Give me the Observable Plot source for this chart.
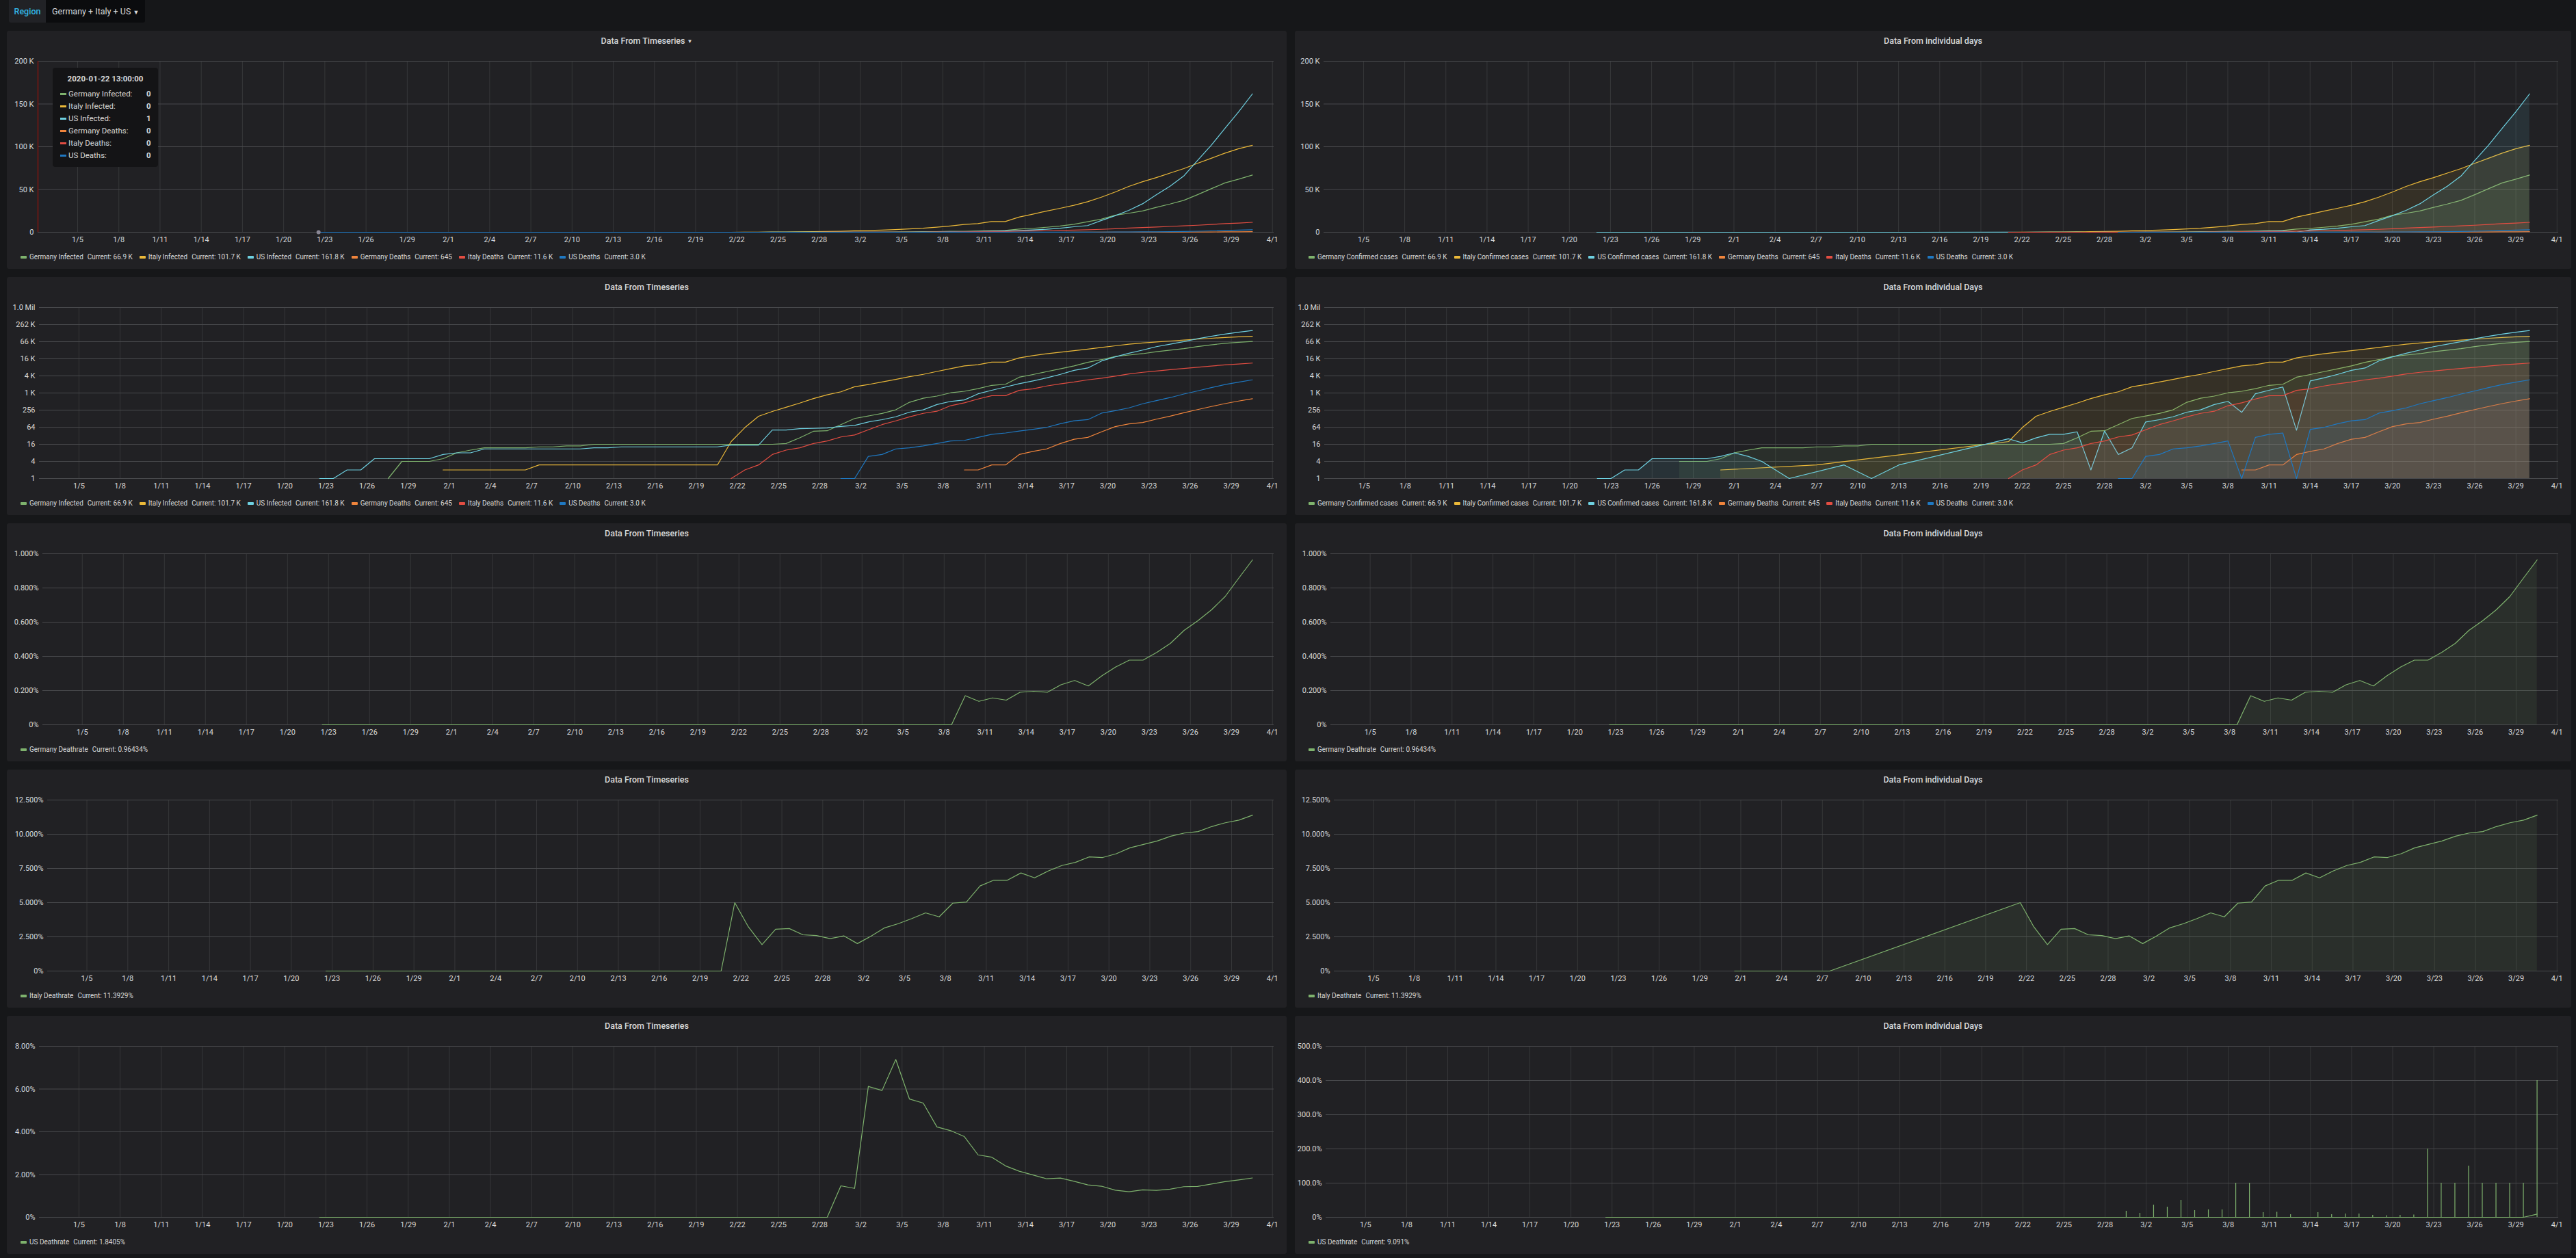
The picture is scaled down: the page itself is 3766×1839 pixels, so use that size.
<!DOCTYPE html>
<html>
<head>
<meta charset="utf-8">
<script src="https://cdn.jsdelivr.net/npm/d3@7"></script>
<script src="https://cdn.jsdelivr.net/npm/@observablehq/plot@0.6"></script>
<style>
html,body{margin:0;padding:0;background:#161719;}
body{width:3766px;height:1839px;position:relative;overflow:hidden;font-family:Roboto,"Noto Sans",sans-serif;color:#d8d9da;}
.hdr{position:absolute;left:13px;top:0;height:33px;display:flex;border-radius:0 0 3px 3px;overflow:hidden;}
.hdr .lbl{background:#212226;color:#33b5e5;font-size:12.5px;font-weight:500;width:54px;text-align:center;line-height:33px;}
.hdr .val{background:#0b0c0e;color:#d8d9da;font-size:12.5px;width:136px;padding-left:9px;line-height:33px;}
.panel{position:absolute;background:#212124;border-radius:3px;}
.panel svg{position:absolute;left:0;top:0;overflow:visible;}
.ptitle{position:absolute;left:0;right:0;top:6px;text-align:center;font-size:12.5px;font-weight:500;line-height:18px;color:#d8d9da;}
.legend{position:absolute;left:20px;top:323px;display:flex;font-size:10px;line-height:16px;white-space:pre;color:#d8d9da;}
.legend .item{display:flex;align-items:center;margin-right:10px;}
.legend .sw{width:9px;height:4px;border-radius:1px;margin-right:4px;}
.legend .cur{margin-left:6px;}
.tip{position:absolute;background:#141416;border-radius:4px;font-size:11.5px;color:#d8d9da;}
.tip .tt{position:absolute;left:0;right:0;top:8px;text-align:center;font-weight:700;line-height:16px;}
.tip .row{position:absolute;left:11px;height:16px;line-height:16px;display:flex;align-items:center;}
.tip .row .sw{width:9px;height:3px;margin-right:3px;}
.tip .val{position:absolute;left:137px;font-weight:700;height:16px;line-height:16px;}
</style>
</head>
<body>
<script>
// ---------------- DATA ----------------
const regionLabel = "Region";
const regionValue = "Germany + Italy + US";

const xTickLabels = ["1/5","1/8","1/11","1/14","1/17","1/20","1/23","1/26","1/29","2/1","2/4","2/7","2/10","2/13","2/16","2/19","2/22","2/25","2/28","3/2","3/5","3/8","3/11","3/14","3/17","3/20","3/23","3/26","3/29","4/1"];

const colors = ["#7EB26D","#EAB839","#6ED0E0","#EF843C","#E24D42","#1F78C1"];

const leftNames = ["Germany Infected","Italy Infected","US Infected","Germany Deaths","Italy Deaths","US Deaths"];
const rightNames = ["Germany Confirmed cases","Italy Confirmed cases","US Confirmed cases","Germany Deaths","Italy Deaths","US Deaths"];
const currents = ["66.9 K","101.7 K","161.8 K","645","11.6 K","3.0 K"];

const tooltipTime = "2020-01-22 13:00:00";

// daily values 1/22 .. 3/30 (Data From Timeseries)
const germanyInfected = [
  0,0,0,0,0,1,4,4,4,5,
  8,10,12,12,12,12,13,13,14,14,16,16,16,16,16,16,16,16,16,16,16,16,16,16,17,27,46,48,79,
  130,159,196,262,482,670,799,1040,1176,1457,1908,2078,3675,4585,5795,7272,9257,12327,15320,19848,22213,24873,29056,32986,37323,43938,50871,57695,62095,66885];
const italyInfected = [
  0,0,0,0,0,0,0,0,0,2,
  2,2,2,2,2,2,3,3,3,3,3,3,3,3,3,3,3,3,3,3,20,62,155,229,322,453,655,888,1128,
  1694,2036,2502,3089,3858,4636,5883,7375,9172,10149,12462,12462,17660,21157,24747,27980,31506,35713,41035,47021,53578,59138,63927,69176,74386,80589,86498,92472,97689,101739];
const usInfected = [
  1,1,2,2,5,5,5,5,5,7,
  8,8,11,11,11,11,11,11,11,11,12,12,13,13,13,13,13,13,13,13,15,15,15,51,51,57,58,60,68,
  74,98,118,149,217,262,402,518,583,959,1281,1663,2179,2727,3499,4632,6421,7783,13747,19273,25600,33276,43847,53740,65778,83836,101657,121478,140886,161807];
const germanyDeaths = [
  0,0,0,0,0,0,0,0,0,0,
  0,0,0,0,0,0,0,0,0,0,0,0,0,0,0,0,0,0,0,0,0,0,0,0,0,0,0,0,0,
  0,0,0,0,0,0,0,0,2,2,3,3,7,9,11,17,24,28,44,67,84,94,123,157,206,267,342,433,533,645];
const italyDeaths = [
  0,0,0,0,0,0,0,0,0,0,
  0,0,0,0,0,0,0,0,0,0,0,0,0,0,0,0,0,0,0,0,1,2,3,7,10,12,17,21,29,
  34,52,79,107,148,197,233,366,463,631,827,827,1266,1441,1809,2158,2503,2978,3405,4032,4825,5476,6077,6820,7503,8215,9134,10023,10779,11591];
const usDeaths = [
  0,0,0,0,0,0,0,0,0,0,
  0,0,0,0,0,0,0,0,0,0,0,0,0,0,0,0,0,0,0,0,0,0,0,0,0,0,0,0,1,
  1,6,7,11,12,14,17,21,22,28,36,40,47,54,63,85,108,118,200,244,307,427,552,706,942,1209,1581,2026,2467,2978];

// daily values 1/22 .. 3/30 (Data From individual days), null = no report
const germanyConfirmedDays = [
  null,null,null,null,null,null,4,4,4,5,
  8,10,12,12,12,12,13,13,14,14,16,16,16,16,16,16,16,16,16,16,16,16,16,16,17,27,46,48,79,
  130,159,196,262,482,670,799,1040,1176,1457,1908,2078,3675,4585,5795,7272,9257,12327,15320,19848,22213,24873,29056,32986,37323,43938,50871,57695,62095,66885];
const italyConfirmedDays = [
  null,null,null,null,null,null,null,null,null,2,
  null,null,null,null,null,null,3,null,null,null,null,null,null,null,null,null,null,null,null,null,20,62,155,229,322,453,655,888,1128,
  1694,2036,2502,3089,3858,4636,5883,7375,9172,10149,12462,12462,17660,21157,24747,27980,31506,35713,41035,47021,53578,59138,63927,69176,74386,80589,86498,92472,97689,101739];
const usConfirmedDays = [
  1,1,2,2,5,5,5,5,5,6,
  8,6,4,2,1,null,null,null,3,null,1,null,3,null,null,null,null,null,null,null,25,18,27,36,36,44,2,47,7,
  12,98,118,149,217,262,402,518,213,959,1281,1663,50,2727,3499,4632,6421,7783,13747,19273,25600,33276,43847,53740,65778,83836,101657,121478,140886,161807];
const germanyDeathsDays = [
  null,null,null,null,null,null,null,null,null,null,
  null,null,null,null,null,null,null,null,null,null,null,null,null,null,null,null,null,null,null,null,null,null,null,null,null,null,null,null,null,
  null,null,null,null,null,null,null,null,2,2,3,3,7,9,11,17,24,28,44,67,84,94,123,157,206,267,342,433,533,645];
const italyDeathsDays = [
  null,null,null,null,null,null,null,null,null,null,
  null,null,null,null,null,null,null,null,null,null,null,null,null,null,null,null,null,null,null,null,1,2,3,7,10,12,17,21,29,
  34,52,79,107,148,197,233,366,463,631,827,827,1266,1441,1809,2158,2503,2978,3405,4032,4825,5476,6077,6820,7503,8215,9134,10023,10779,11591];
const usDeathsDays = [
  null,null,null,null,null,null,null,null,null,null,
  null,null,null,null,null,null,null,null,null,null,null,null,null,null,null,null,null,null,null,null,null,null,null,null,null,null,null,null,1,
  1,6,7,11,12,14,17,21,1,28,36,40,1,54,63,85,108,118,200,244,307,427,552,706,942,1209,1581,2026,2467,2978];

// death rates in % (1/22 .. 3/30)
const germanyDeathrate = [
  0,0,0,0,0,0,0,0,0,0,
  0,0,0,0,0,0,0,0,0,0,0,0,0,0,0,0,0,0,0,0,0,0,0,0,0,0,0,0,0,
  0,0,0,0,0,0,0,0,0.170,0.137,0.157,0.144,0.190,0.196,0.190,0.234,0.259,0.227,0.287,0.338,0.378,0.378,0.423,0.476,0.552,0.608,0.672,0.750,0.858,0.964];
const germanyDeathrateDays = [
  0,0,0,0,0,0,0,0,0,0,
  0,0,0,0,0,0,0,0,0,0,0,0,0,0,0,0,0,0,0,0,0,0,0,0,0,0,0,0,0,
  0,0,0,0,0,0,0,0,0.170,0.137,0.157,0.144,0.190,0.196,0.190,0.234,0.259,0.227,0.287,0.338,0.378,0.378,0.423,0.476,0.552,0.608,0.672,0.750,0.858,0.964];
const italyDeathrate = [
  0,0,0,0,0,0,0,0,0,0,
  0,0,0,0,0,0,0,0,0,0,0,0,0,0,0,0,0,0,0,0,5.000,3.226,1.935,3.057,3.106,2.649,2.595,2.365,2.571,
  2.007,2.554,3.157,3.464,3.836,4.249,3.961,4.963,5.048,6.217,6.636,6.636,7.169,6.811,7.310,7.713,7.945,8.339,8.298,8.575,9.006,9.260,9.506,9.859,10.087,10.194,10.560,10.839,11.034,11.393];
const italyDeathrateDays = [
  null,null,null,null,null,null,null,null,null,0,
  null,null,null,null,null,null,0,null,null,null,null,null,null,null,null,null,null,null,null,null,5.000,3.226,1.935,3.057,3.106,2.649,2.595,2.365,2.571,
  2.007,2.554,3.157,3.464,3.836,4.249,3.961,4.963,5.048,6.217,6.636,6.636,7.169,6.811,7.310,7.713,7.945,8.339,8.298,8.575,9.006,9.260,9.506,9.859,10.087,10.194,10.560,10.839,11.034,11.393];
const usDeathrate = [
  0,0,0,0,0,0,0,0,0,0,
  0,0,0,0,0,0,0,0,0,0,0,0,0,0,0,0,0,0,0,0,0,0,0,0,0,0,0,0,1.471,
  1.351,6.122,5.932,7.383,5.530,5.344,4.229,4.054,3.774,2.920,2.810,2.405,2.157,1.980,1.801,1.835,1.682,1.516,1.455,1.266,1.199,1.283,1.259,1.314,1.432,1.442,1.555,1.668,1.751,1.840];
const usDeathrateDays = [
  0,0,0,0,0,0,0,0,0,0,
  0,0,0,0,0,0,0,0,0,0,0,0,0,0,0,0,0,0,0,0,0,0,0,0,0,0,0,0,0,
  0,0,0,0,0,0,0,0,0,0,0,0,0,0,0,0,0,0,0,0,0,0,0,0,0,0,0,0,0,9.091];
// spikes (bars) in the individual-days US death rate
const usSpikeDates = ["2020-02-29","2020-03-01","2020-03-02","2020-03-03","2020-03-04","2020-03-05","2020-03-06","2020-03-07","2020-03-08","2020-03-09","2020-03-10","2020-03-11","2020-03-12","2020-03-14","2020-03-15","2020-03-16","2020-03-17","2020-03-18","2020-03-19","2020-03-20","2020-03-21","2020-03-22","2020-03-23","2020-03-24","2020-03-25","2020-03-26","2020-03-27","2020-03-28","2020-03-29","2020-03-30"];
const usSpikeValues = [18,12,36,30,50,20,22,22,100,100,14,15,8,14,8,10,10,6,5,6,7,200,100,100,150,100,100,100,100,400];

// axis ticks
const countTicks = [0,50000,100000,150000,200000];
const countLabels = ["0","50 K","100 K","150 K","200 K"];
const logTicks = [1,4,16,64,256,1024,4096,16384,65536,262144,1048576];
const logLabels = ["1","4","16","64","256","1 K","4 K","16 K","66 K","262 K","1.0 Mil"];
const deTicks = [0,0.2,0.4,0.6,0.8,1.0];
const deLabels = ["0%","0.200%","0.400%","0.600%","0.800%","1.000%"];
const itTicks = [0,2.5,5,7.5,10,12.5];
const itLabels = ["0%","2.500%","5.000%","7.500%","10.000%","12.500%"];
const usTicks = [0,2,4,6,8];
const usLabels = ["0%","2.00%","4.00%","6.00%","8.00%"];
const usDayTicks = [0,100,200,300,400,500];
const usDayLabels = ["0%","100.0%","200.0%","300.0%","400.0%","500.0%"];

// ---------------- RENDER ----------------
const TXT = "#d8d9da", H_GRID = "#48494c", V_GRID = "#363739";
const T0 = new Date(Date.UTC(2020,0,2,2,40)), T1 = new Date(Date.UTC(2020,3,1,2,40));
const xTickDates = xTickLabels.map(s => { const [m,d] = s.split("/").map(Number); return new Date(Date.UTC(2020,m-1,d)); });
const days = d3.utcDay.range(new Date(Date.UTC(2020,0,22)), new Date(Date.UTC(2020,2,31)));
const at = h => days.map(d => new Date(+d + h*3600e3));

const leftSeries = [germanyInfected, italyInfected, usInfected, germanyDeaths, italyDeaths, usDeaths].map((v,i)=>({name:leftNames[i], values:v, color:colors[i], cur:currents[i]}));
const rightSeries = [germanyConfirmedDays, italyConfirmedDays, usConfirmedDays, germanyDeathsDays, italyDeathsDays, usDeathsDays].map((v,i)=>({name:rightNames[i], values:v, color:colors[i], cur:currents[i]}));

const LX = 10, LW = 1871, RX = 1893, RW = 1866, PH = 348;
const rowTop = [45,405,765,1125,1485];

const panels = [
  {c:0,r:0,title:"Data From Timeseries",caret:true,ml:45,type:"linear",dom:[0,200000],ticks:countTicks,labels:countLabels,series:leftSeries,h:13,fill:false,tooltip:true},
  {c:1,r:0,title:"Data From individual days",ml:42,type:"linear",dom:[0,200000],ticks:countTicks,labels:countLabels,series:rightSeries,h:0,fill:true},
  {c:0,r:1,title:"Data From Timeseries",ml:47,type:"log",dom:[1,1048576],ticks:logTicks,labels:logLabels,series:leftSeries,h:13,fill:false},
  {c:1,r:1,title:"Data From individual Days",ml:43,type:"log",dom:[1,1048576],ticks:logTicks,labels:logLabels,series:rightSeries,h:0,fill:true},
  {c:0,r:2,title:"Data From Timeseries",ml:52,type:"linear",dom:[0,1],ticks:deTicks,labels:deLabels,series:[{name:"Germany Deathrate",values:germanyDeathrate,color:colors[0],cur:"0.96434%"}],h:13,fill:false},
  {c:1,r:2,title:"Data From individual Days",ml:52,type:"linear",dom:[0,1],ticks:deTicks,labels:deLabels,series:[{name:"Germany Deathrate",values:germanyDeathrateDays,color:colors[0],cur:"0.96434%"}],h:13,fill:true},
  {c:0,r:3,title:"Data From Timeseries",ml:59,type:"linear",dom:[0,12.5],ticks:itTicks,labels:itLabels,series:[{name:"Italy Deathrate",values:italyDeathrate,color:colors[0],cur:"11.3929%"}],h:13,fill:false},
  {c:1,r:3,title:"Data From individual Days",ml:57,type:"linear",dom:[0,12.5],ticks:itTicks,labels:itLabels,series:[{name:"Italy Deathrate",values:italyDeathrateDays,color:colors[0],cur:"11.3929%"}],h:13,fill:true},
  {c:0,r:4,title:"Data From Timeseries",ml:47,type:"linear",dom:[0,8],ticks:usTicks,labels:usLabels,series:[{name:"US Deathrate",values:usDeathrate,color:colors[0],cur:"1.8405%"}],h:13,fill:false},
  {c:1,r:4,title:"Data From individual Days",ml:45,type:"linear",dom:[0,500],ticks:usDayTicks,labels:usDayLabels,series:[{name:"US Deathrate",values:usDeathrateDays,color:colors[0],cur:"9.091%"}],h:13,fill:false,spikes:true}
];

// header
const hdr = document.createElement("div"); hdr.className = "hdr";
hdr.innerHTML = `<div class="lbl">${regionLabel}</div><div class="val">${regionValue} <span style="font-size:9px">&#9660;</span></div>`;
document.body.appendChild(hdr);

for (const p of panels) {
  const W = p.c ? RW : LW;
  const el = document.createElement("div");
  el.className = "panel";
  el.style.left = (p.c ? RX : LX) + "px";
  el.style.top = rowTop[p.r] + "px";
  el.style.width = W + "px";
  el.style.height = PH + "px";
  document.body.appendChild(el);

  const t = document.createElement("div");
  t.className = "ptitle";
  t.innerHTML = p.title + (p.caret ? ' <span style="font-size:8px;vertical-align:1px">&#9660;</span>' : "");
  el.appendChild(t);

  const times = at(p.h);
  const isLog = p.type === "log";
  const labelMap = new Map(p.ticks.map((v,i)=>[v,p.labels[i]]));
  const marks = [
    Plot.ruleX(xTickDates, {stroke: V_GRID, strokeWidth: 1}),
    Plot.ruleY(p.ticks, {stroke: H_GRID, strokeWidth: 1}),
    Plot.axisY(p.ticks, {tickSize: 0, tickPadding: 6, tickFormat: d => labelMap.get(d), fontSize: 11, fill: TXT, label: null}),
    Plot.axisX(xTickDates, {tickSize: 0, tickPadding: 7, tickFormat: d => `${d.getUTCMonth()+1}/${d.getUTCDate()}`, fontSize: 11, fill: TXT, label: null})
  ];
  for (const s of p.series) {
    const pts = s.values.map((v,i)=>({t: times[i], v})).filter(d => d.v != null && (!isLog || d.v > 0));
    if (p.fill) marks.push(Plot.areaY(pts, {x: "t", y1: isLog ? 1 : 0, y2: "v", fill: s.color, fillOpacity: 0.1}));
    marks.push(Plot.line(pts, {x: "t", y: "v", stroke: s.color, strokeWidth: 1.2}));
  }
  if (p.spikes) {
    const sp = usSpikeDates.map((d,i)=>({t: new Date(Date.parse(d + "T13:00:00Z")), v: usSpikeValues[i]}));
    marks.push(Plot.ruleX(sp, {x: "t", y1: 0, y2: "v", stroke: colors[0], strokeWidth: 1.2}));
  }
  if (p.tooltip) {
    marks.push(Plot.ruleX([T0], {stroke: "#7d1710", strokeWidth: 1.5}));
    marks.push(Plot.dot([{t: times[0], v: 0}], {x: "t", y: "v", r: 3, fill: "#8a8795", stroke: "none"}));
  }
  const svg = Plot.plot({
    width: W, height: 322,
    marginTop: 44, marginBottom: 28, marginLeft: p.ml, marginRight: 19,
    style: {background: "transparent", color: TXT, fontFamily: "Roboto, sans-serif", fontSize: "11px", overflow: "visible"},
    x: {type: "utc", domain: [T0, T1]},
    y: isLog ? {type: "log", base: 4, domain: p.dom} : {type: "linear", domain: p.dom},
    marks
  });
  el.appendChild(svg);

  const lg = document.createElement("div");
  lg.className = "legend";
  lg.innerHTML = p.series.map(s => `<div class="item"><div class="sw" style="background:${s.color}"></div><span>${s.name}</span><span class="cur">Current: ${s.cur}</span></div>`).join("");
  el.appendChild(lg);

  if (p.tooltip) {
    const tip = document.createElement("div");
    tip.className = "tip";
    tip.style.left = "67px"; tip.style.top = "54px"; tip.style.width = "154px"; tip.style.height = "145px";
    let html = `<div class="tt">${tooltipTime}</div>`;
    p.series.forEach((s,i) => {
      const y = 30 + i*18;
      html += `<div class="row" style="top:${y}px"><div class="sw" style="background:${s.color}"></div>${s.name}:</div><div class="val" style="top:${y}px">${s.values[0]}</div>`;
    });
    tip.innerHTML = html;
    el.appendChild(tip);
  }
}
</script>
</body>
</html>
